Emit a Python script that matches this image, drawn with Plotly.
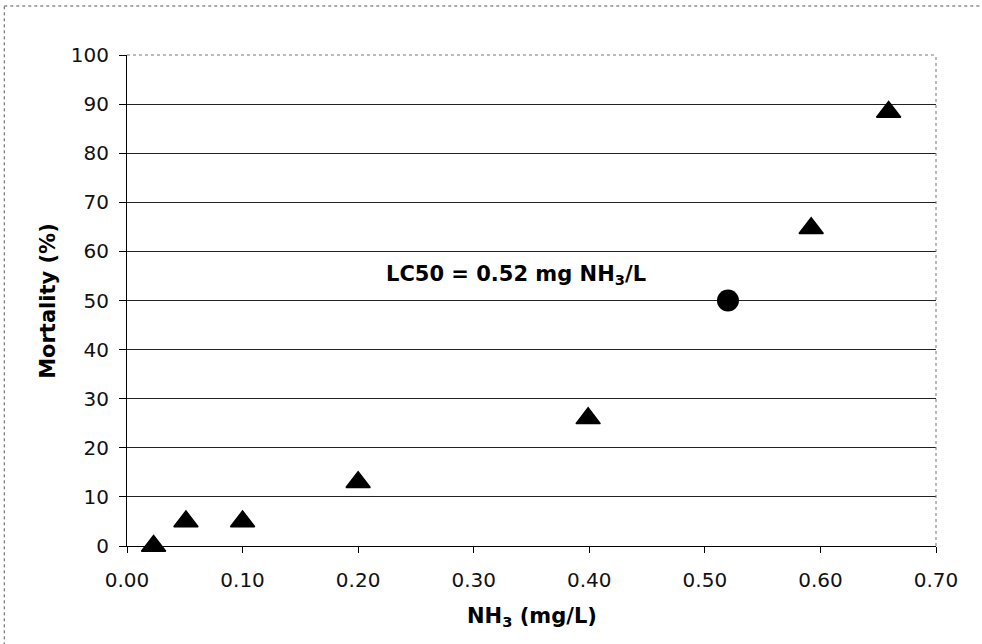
import plotly.graph_objects as go

# Acute toxicity test: un-ionized ammonia concentration vs. mortality
nh3_mg_l = [0.023, 0.051, 0.100, 0.200, 0.399, 0.592, 0.659]
mortality_pct = [0, 5, 5, 13, 26, 64.7, 88.4]

# Estimated median lethal concentration
lc50_nh3 = 0.52
lc50_mortality = 50

x_ticks = [0.0, 0.1, 0.2, 0.3, 0.4, 0.5, 0.6, 0.7]
y_ticks = [0, 10, 20, 30, 40, 50, 60, 70, 80, 90, 100]

FONT = "DejaVu Sans"

fig = go.Figure()

fig.add_trace(go.Scatter(
    x=nh3_mg_l, y=mortality_pct, mode="markers",
    marker=dict(symbol="triangle-up", size=21, color="#000000",
                line=dict(color="#000000", width=1.5)),
    showlegend=False, cliponaxis=False,
))

fig.add_trace(go.Scatter(
    x=[lc50_nh3], y=[lc50_mortality], mode="markers",
    marker=dict(symbol="circle", size=22, color="#000000"),
    showlegend=False, cliponaxis=False,
))

fig.add_annotation(
    x=0.451, y=55.2, xref="x", yref="y",
    text=f"<b>LC50 = {lc50_nh3:.2f} mg NH<sub>3</sub>/L</b>",
    showarrow=False, xanchor="right", yanchor="middle",
    font=dict(family=FONT, size=21, color="#000000"),
)

# Axis titles
fig.add_annotation(
    x=0.5, y=-0.145, xref="paper", yref="paper",
    text="<b>NH<sub>3</sub> (mg/L)</b>", showarrow=False,
    xanchor="center", yanchor="middle",
    font=dict(family=FONT, size=21, color="#000000"),
)
fig.add_annotation(
    x=-0.0985, y=0.5, xref="paper", yref="paper",
    text="<b>Mortality (%)</b>", showarrow=False, textangle=-90,
    xanchor="center", yanchor="middle",
    font=dict(family=FONT, size=21, color="#000000"),
)

# Plot-area border (top/right)
fig.add_shape(type="line", xref="paper", yref="paper", x0=0, x1=1, y0=1, y1=1,
              line=dict(color="#777777", width=1, dash="dot"))
fig.add_shape(type="line", xref="paper", yref="paper", x0=1, x1=1, y0=0, y1=1,
              line=dict(color="#777777", width=1, dash="dot"))
# Outer chart frame: left and top edges
fig.add_shape(type="line", xref="paper", yref="paper",
              x0=-0.1517, x1=-0.1517, y0=-0.3, y1=1.0998,
              line=dict(color="#555555", width=1, dash="dot"))
fig.add_shape(type="line", xref="paper", yref="paper",
              x0=-0.1517, x1=1.3, y0=1.0998, y1=1.0998,
              line=dict(color="#555555", width=1, dash="dot"))

fig.update_xaxes(
    range=[0, 0.7], tickvals=x_ticks, tickformat=".2f",
    showgrid=False, zeroline=False,
    showline=True, linecolor="#000000", linewidth=1,
    ticks="outside", ticklen=6, tickcolor="#000000",
    ticklabelstandoff=10,
    tickfont=dict(family=FONT, size=20, color="#111111"),
)
fig.update_yaxes(
    range=[0, 100], tickvals=y_ticks,
    showgrid=True, gridcolor="#222222", gridwidth=1, zeroline=False,
    showline=True, linecolor="#000000", linewidth=1,
    ticks="outside", ticklen=7, tickcolor="#000000",
    ticklabelstandoff=6,
    tickfont=dict(family=FONT, size=20, color="#111111"),
)

fig.update_layout(
    width=982, height=644,
    margin=dict(l=127, r=46, t=55, b=98, autoexpand=False),
    paper_bgcolor="#ffffff", plot_bgcolor="#ffffff",
    font=dict(family=FONT, color="#000000"),
)

fig.write_html("out.html")
